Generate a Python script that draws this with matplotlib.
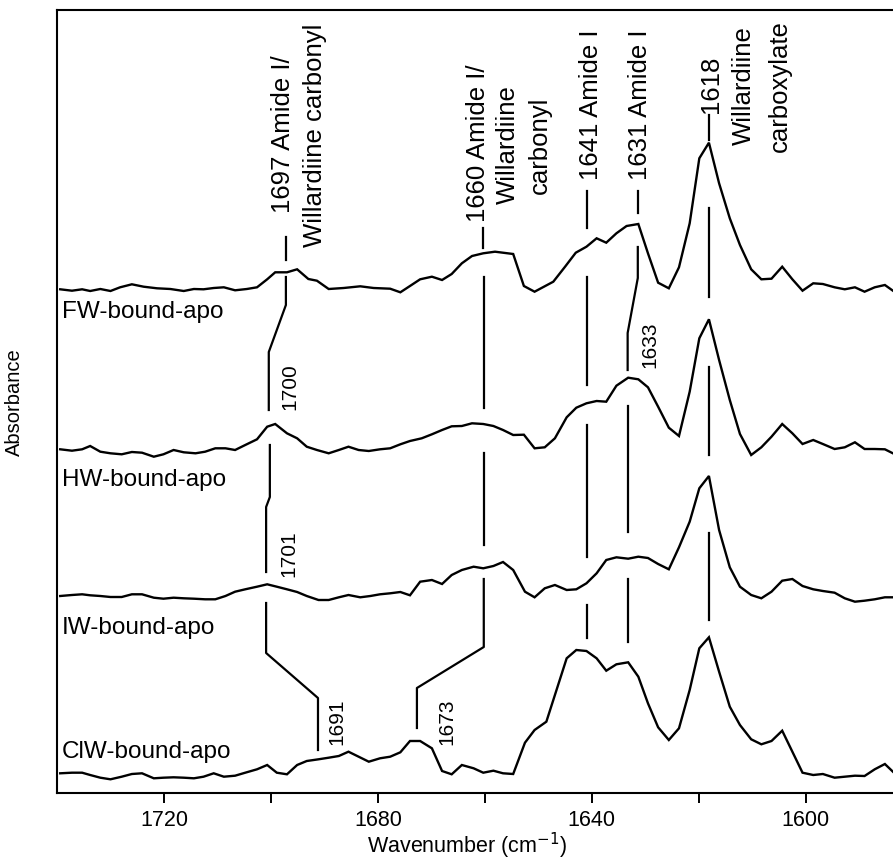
import matplotlib
matplotlib.use("Agg")
import matplotlib.pyplot as plt
import numpy as np

plt.rcParams['font.family'] = ['Liberation Sans', 'DejaVu Sans']

# ---------------- data (wavenumber in cm-1, absorbance in arbitrary stacked units) -------------
FW_wn = [1739.4, 1737.2, 1735.3, 1733.8, 1731.9, 1730.0, 1728.2, 1726.0, 1723.8, 1721.3, 1718.8, 1716.3,
         1714.4, 1712.6, 1710.7, 1708.8, 1706.7, 1704.5, 1702.6, 1700.7, 1699.2, 1697.0, 1695.1, 1693.0,
         1691.4, 1689.2, 1686.4, 1683.3, 1680.8, 1677.7, 1675.8, 1674.0, 1672.1, 1669.9, 1668.0, 1666.2,
         1664.3, 1662.4, 1660.3, 1658.1, 1654.7, 1652.7, 1650.7, 1647.2, 1645.0, 1643.0, 1641.0, 1639.1,
         1637.3, 1635.4, 1633.5, 1631.3, 1629.5, 1627.6, 1625.6, 1623.7, 1621.7, 1619.9, 1618.1, 1616.2,
         1614.2, 1612.3, 1610.2, 1608.3, 1606.4, 1604.4, 1602.5, 1600.6, 1598.6, 1596.8, 1594.6, 1592.7,
         1590.8, 1589.0, 1587.1, 1585.2, 1583.7]
FW_abs = [503.7, 502.3, 503.7, 502, 504, 502, 505.7, 508.7, 506.3, 504.7, 504, 502,
          504, 503.7, 505, 505.7, 502.7, 504, 505.7, 513.7, 520.7, 520.7, 523.7, 514,
          512.3, 504, 505, 506.7, 505, 504.3, 500.7, 507, 513.7, 516.3, 513, 519,
          529.7, 537, 539.7, 541.3, 539, 507, 501.3, 511.3, 526.3, 540.3, 546.3, 554.7,
          550.3, 559.7, 567, 569, 539.7, 510.3, 504.7, 525.7, 569.7, 634.7, 650.3, 609.7,
          574.7, 548, 523.7, 513.7, 514.3, 526.3, 513.7, 502.3, 509.7, 509, 505.7, 503.7,
          505.7, 501.3, 505.7, 508, 502.3]

HW_wn = [1739.4, 1737.2, 1735.3, 1733.8, 1731.9, 1730.0, 1727.9, 1726.0, 1724.1, 1721.9, 1720.1, 1718.2,
         1716.3, 1714.1, 1712.3, 1710.4, 1708.5, 1706.7, 1704.8, 1702.6, 1700.7, 1699.2, 1697.0, 1695.1,
         1693.3, 1691.4, 1689.2, 1687.3, 1685.5, 1683.6, 1681.7, 1679.6, 1677.7, 1675.8, 1674.0, 1671.8,
         1669.9, 1668.0, 1666.2, 1664.3, 1662.4, 1660.3, 1658.4, 1656.6, 1654.7, 1652.7, 1650.7, 1648.8,
         1646.9, 1644.7, 1642.9, 1641.0, 1639.1, 1637.3, 1635.4, 1633.2, 1631.3, 1629.5, 1627.6, 1625.6,
         1623.7, 1621.7, 1619.9, 1618.1, 1616.2, 1614.2, 1612.3, 1610.2, 1608.3, 1606.4, 1604.4, 1602.5,
         1600.6, 1598.6, 1596.8, 1594.6, 1592.7, 1590.8, 1589.0, 1587.1, 1585.2, 1583.7]
HW_abs = [343.7, 342.3, 343.7, 347, 341.3, 339.7, 338.7, 341, 340.3, 336.3, 338.7, 343,
          340.7, 339.7, 341.3, 344.7, 344.7, 343, 348, 353.7, 366.3, 369, 359.7, 354.7,
          346.3, 343, 339.7, 343, 346.3, 343, 342, 343.7, 344.7, 348.7, 352, 354.7,
          358.7, 363, 366.7, 367, 369.7, 369, 367, 363, 358, 358.3, 344.7, 345.7,
          354.7, 375.7, 385.3, 389.7, 392, 391.3, 407.3, 415.3, 413.7, 405.7, 386.3, 365.3,
          357, 401.3, 454.7, 473.7, 433, 393, 359, 338, 345.7, 356.3, 369, 359.7,
          349, 353, 349, 344, 345.7, 350.7, 344, 344, 343.7, 339.7]

IW_wn = [1739.4, 1737.2, 1735.3, 1733.8, 1731.9, 1730.0, 1727.9, 1726.0, 1724.1, 1721.9, 1720.1, 1718.2,
         1716.3, 1714.4, 1712.3, 1710.4, 1708.5, 1706.7, 1704.8, 1702.6, 1700.7, 1698.9, 1697.0, 1695.1,
         1693.3, 1691.1, 1689.2, 1687.3, 1685.5, 1683.3, 1681.4, 1679.6, 1677.7, 1675.8, 1674.0, 1672.1,
         1669.9, 1668.0, 1666.2, 1664.3, 1662.1, 1660.3, 1658.4, 1656.6, 1654.7, 1652.5, 1650.7, 1648.8,
         1646.9, 1644.7, 1642.9, 1641.0, 1639.1, 1637.3, 1635.4, 1633.2, 1631.3, 1629.5, 1627.6, 1625.6,
         1623.7, 1621.7, 1619.9, 1618.1, 1616.2, 1614.2, 1612.3, 1610.2, 1608.3, 1606.4, 1604.4, 1602.5,
         1600.6, 1598.6, 1596.8, 1594.6, 1592.7, 1590.8, 1589.0, 1587.1, 1585.2, 1583.7]
IW_abs = [197, 198, 198.7, 197.7, 197, 196, 196, 198.7, 198.7, 195.3, 194.3, 195.3,
          194.7, 194.3, 193.7, 193.7, 197, 201.3, 203.7, 206.3, 208.7, 206.3, 203.7, 201,
          197, 193, 193, 195.7, 198, 195.7, 197, 198.7, 199.7, 201, 197.7, 211.3,
          213, 209, 218, 223, 226.3, 224.7, 227, 231, 223, 201.3, 195.7, 204.7,
          208, 203, 203.7, 209.7, 219.7, 233, 235.7, 234.3, 236.3, 235, 229, 223.7,
          245.7, 271.3, 304.7, 317, 263, 225.7, 206.3, 198, 194.7, 201.3, 212.3, 214,
          207, 203.7, 202, 200.3, 194.7, 191.3, 192.3, 193.7, 195.7, 195.7]

CIW_wn = [1739.4, 1737.2, 1735.3, 1733.8, 1731.9, 1730.0, 1727.9, 1726.0, 1724.1, 1721.9, 1720.1, 1718.2,
          1716.3, 1714.4, 1712.6, 1710.7, 1708.8, 1706.7, 1704.8, 1702.6, 1700.7, 1698.9, 1697.0, 1695.1,
          1693.3, 1691.1, 1689.2, 1687.3, 1685.5, 1683.6, 1681.7, 1679.6, 1677.7, 1675.8, 1674.0, 1672.1,
          1669.9, 1668.0, 1666.2, 1664.3, 1662.1, 1660.3, 1658.4, 1656.6, 1654.7, 1652.5, 1650.7, 1648.5,
          1646.6, 1644.7, 1642.9, 1641.0, 1639.1, 1637.3, 1635.4, 1633.2, 1631.3, 1629.5, 1627.6, 1625.6,
          1623.7, 1621.7, 1619.9, 1618.1, 1616.2, 1614.2, 1612.3, 1610.2, 1608.3, 1606.4, 1604.4, 1602.5,
          1600.6, 1598.6, 1596.8, 1594.6, 1592.7, 1590.8, 1589.0, 1587.1, 1585.2, 1583.7]
CIW_abs = [19.7, 20.3, 20.3, 18, 15.3, 13.7, 16.3, 19, 19.7, 14.7, 15.3, 15.7,
           15.3, 14.7, 16.3, 19.7, 16.3, 17.3, 20.3, 23.7, 28, 20.3, 18.7, 28,
           32, 33.7, 35.3, 37, 41.3, 36.3, 31.3, 34.7, 36.3, 40.7, 52, 52,
           44.7, 22, 18.7, 28, 24.7, 20.3, 22.3, 19.7, 19, 50.3, 63, 71.3,
           103, 134.7, 143, 142, 134.7, 122.3, 128.7, 130.7, 116.3, 89.7, 65.7, 53,
           64.7, 103, 144.7, 155.7, 121.3, 86.3, 68, 53.7, 48.7, 52, 62.3, 41.3,
           20.3, 18, 19, 15.3, 16.3, 17.3, 17, 23.7, 29, 21.3]

series_names = ["FW-bound-apo", "HW-bound-apo", "IW-bound-apo", "ClW-bound-apo"]
series_label_y = [475, 307, 159, 35]

major_ticks = [1720, 1680, 1640, 1600]
minor_ticks = [1700, 1660, 1620]

# peak-assignment leader lines: list of polylines (wavenumber, absorbance)
leaders = [
    [(1697.2, 556), (1697.2, 533)],
    [(1697.2, 516), (1697.2, 488), (1700.4, 441), (1700.4, 383)],
    [(1700.2, 348), (1700.2, 296), (1700.9, 286), (1700.9, 221)],
    [(1700.9, 190), (1700.9, 140), (1691.2, 95), (1691.2, 43)],
    [(1660.4, 565), (1660.4, 545)],
    [(1660.2, 516), (1660.2, 385)],
    [(1660.2, 340), (1660.2, 248)],
    [(1660.2, 214), (1660.2, 146), (1672.7, 105), (1672.7, 65)],
    [(1640.9, 602), (1640.9, 565)],
    [(1640.9, 516), (1640.9, 408)],
    [(1640.9, 368), (1640.9, 236)],
    [(1640.9, 188), (1640.9, 155)],
    [(1631.4, 602), (1631.4, 580)],
    [(1631.4, 546), (1631.4, 515), (1633.3, 460), (1633.3, 423)],
    [(1633.3, 387), (1633.3, 261)],
    [(1633.3, 214), (1633.3, 151)],
    [(1618.1, 678), (1618.1, 653)],
    [(1618.1, 585), (1618.1, 496)],
    [(1618.1, 426), (1618.1, 338)],
    [(1618.1, 260), (1618.1, 173)],
]

# (text, wavenumber, absorbance, vertical anchor)
peak_texts = [
    ("1697 Amide I/", 1697.7, 580, 'bottom'),
    ("Willardiine carbonyl", 1691.8, 546, 'bottom'),
    ("1660 Amide I/", 1661.3, 571, 'bottom'),
    ("Willardiine", 1655.7, 648, 'center'),
    ("carbonyl", 1649.7, 648, 'center'),
    ("1641 Amide I", 1640.2, 613, 'bottom'),
    ("1631 Amide I", 1631.0, 613, 'bottom'),
    ("1618", 1617.8, 680, 'bottom'),
    ("Willardiine", 1611.6, 707, 'center'),
    ("carboxylate", 1604.9, 707, 'center'),
]
shift_texts = [
    ("1700", 1696.4, 383),
    ("1633", 1629.2, 425),
    ("1701", 1696.6, 216),
    ("1691", 1687.7, 48),
    ("1673", 1667.1, 48),
]

# ---------------- figure -------------
W, H = 893, 863
fig = plt.figure(figsize=(W / 100, H / 100), dpi=100)
ax = fig.add_axes([57 / W, 70 / H, 845 / W, 783 / H])

lw = 1.7
for wn, ab in [(FW_wn, FW_abs), (HW_wn, HW_abs), (IW_wn, IW_abs), (CIW_wn, CIW_abs)]:
    ax.plot(wn, ab, color='black', lw=lw, solid_joinstyle='miter')

for path in leaders:
    xs, ys = zip(*path)
    ax.plot(xs, ys, color='black', lw=1.6)

for name, y in zip(series_names, series_label_y):
    ax.text(1739.1, y, name, fontsize=17.5, ha='left', va='baseline')

for txt, x, y, va in peak_texts:
    ax.text(x, y, txt, rotation=90, fontsize=18.5, ha='center', va=va)

for txt, x, y in shift_texts:
    ax.text(x, y, txt, rotation=90, fontsize=15, ha='center', va='bottom')

ax.set_xlim(1740, 1582)
ax.set_ylim(0, 783)
ax.set_xticks(major_ticks)
ax.set_xticks(minor_ticks, minor=True)
ax.set_xticklabels([str(t) for t in major_ticks], fontsize=15.5)
ax.set_yticks([])
ax.tick_params(axis='x', which='both', direction='out', length=7, width=1.4, pad=5)
for s in ax.spines.values():
    s.set_linewidth(1.5)

fig.text(467 / W, 1 - 846 / H, "Wavenumber (cm$^{-1}$)", fontsize=15.5, ha='center', va='center')
fig.text(14 / W, 1 - 402 / H, "Absorbance", fontsize=14.5, rotation=90, ha='center', va='center')

fig.savefig("out.png", dpi=100)
